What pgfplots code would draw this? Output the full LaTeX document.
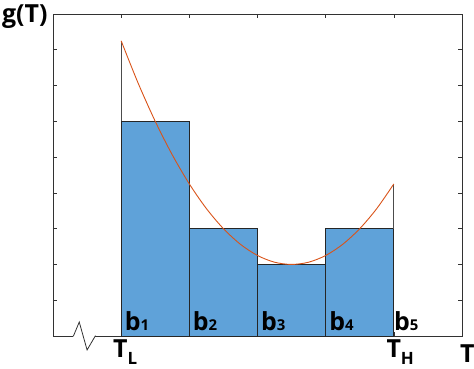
\documentclass[border=0pt]{standalone}
\usepackage{pgfplots}
\pgfplotsset{compat=1.18}
\usepackage{fontspec}
\setmainfont{Open Sans}
\definecolor{barblue}{RGB}{95,162,217}
\definecolor{curvered}{RGB}{217,83,25}
\definecolor{axgray}{RGB}{50,50,50}
\newcommand{\blab}[1]{\fontsize{25}{25}\selectfont\bfseries b{\fontsize{15}{15}\selectfont #1}}
\newcommand{\tlab}[1]{\fontsize{25}{25}\selectfont\bfseries T\raisebox{-7bp}{\fontsize{17}{17}\selectfont #1}}
\begin{document}
\begin{tikzpicture}
\path[use as bounding box] (-53bp,-33bp) rectangle (421bp,336bp);
\begin{axis}[
  scale only axis,
  width=409bp, height=322bp,
  xmin=-1, xmax=5, ymin=0, ymax=9,
  xtick={0,1,2,3,4}, ytick={1,2,3,4,5,6,7,8},
  xticklabels={}, yticklabels={},
  tick align=inside,
  major tick length=4bp,
  tick style={axgray, line width=0.6pt},
  axis line style={axgray, line width=0.8pt},
  clip=false,
]
\addplot[ybar interval, fill=barblue, draw=black!85, line width=0.7pt]
  coordinates {(0,6)(1,3)(2,2)(3,3)(4,3)};
\addplot[black!70, line width=0.7pt] coordinates {(0,6)(0,8.25)};
\addplot[black!70, line width=0.7pt] coordinates {(4,3)(4,4.25)};
\addplot[curvered, line width=0.9pt, smooth] coordinates {
(0,8.25)(0.25,7.0625)(0.5,6)(0.75,5.0625)(1,4.25)(1.25,3.5625)(1.5,3)
(1.75,2.5625)(2,2.25)(2.25,2.0625)(2.5,2)(2.75,2.0625)(3,2.25)
(3.25,2.5625)(3.5,3)(3.75,3.5625)(4,4.25)};
% axis break
\draw[white, line width=2.5pt] (axis cs:-0.70,0) -- (axis cs:-0.38,0);
\draw[axgray, line width=0.8pt] (axis cs:-0.71,0) -- (axis cs:-0.70,0) -- (axis cs:-0.615,0.39) -- (axis cs:-0.50,-0.39) -- (axis cs:-0.38,0) -- (axis cs:-0.37,0);
% labels
\node[anchor=base west, inner sep=0] at (axis cs:0.05,0.14) {\blab{1}};
\node[anchor=base west, inner sep=0] at (axis cs:1.05,0.14) {\blab{2}};
\node[anchor=base west, inner sep=0] at (axis cs:2.05,0.14) {\blab{3}};
\node[anchor=base west, inner sep=0] at (axis cs:3.05,0.14) {\blab{4}};
\node[anchor=base west, inner sep=0] at (axis cs:4.0,0.14) {\blab{5}};
\node[anchor=base west, inner sep=0] at (axis cs:-0.12,-0.61) {\tlab{L}};
\node[anchor=base west, inner sep=0] at (axis cs:3.89,-0.61) {\tlab{H}};
\node[anchor=base west, inner sep=0] at (axis cs:4.97,-0.75) {\fontsize{25}{25}\selectfont\bfseries T};
\node[anchor=base west, inner sep=0] at (axis cs:-1.75,8.75) {\fontsize{25}{25}\selectfont\bfseries g(T)};
\end{axis}
\end{tikzpicture}
\end{document}
